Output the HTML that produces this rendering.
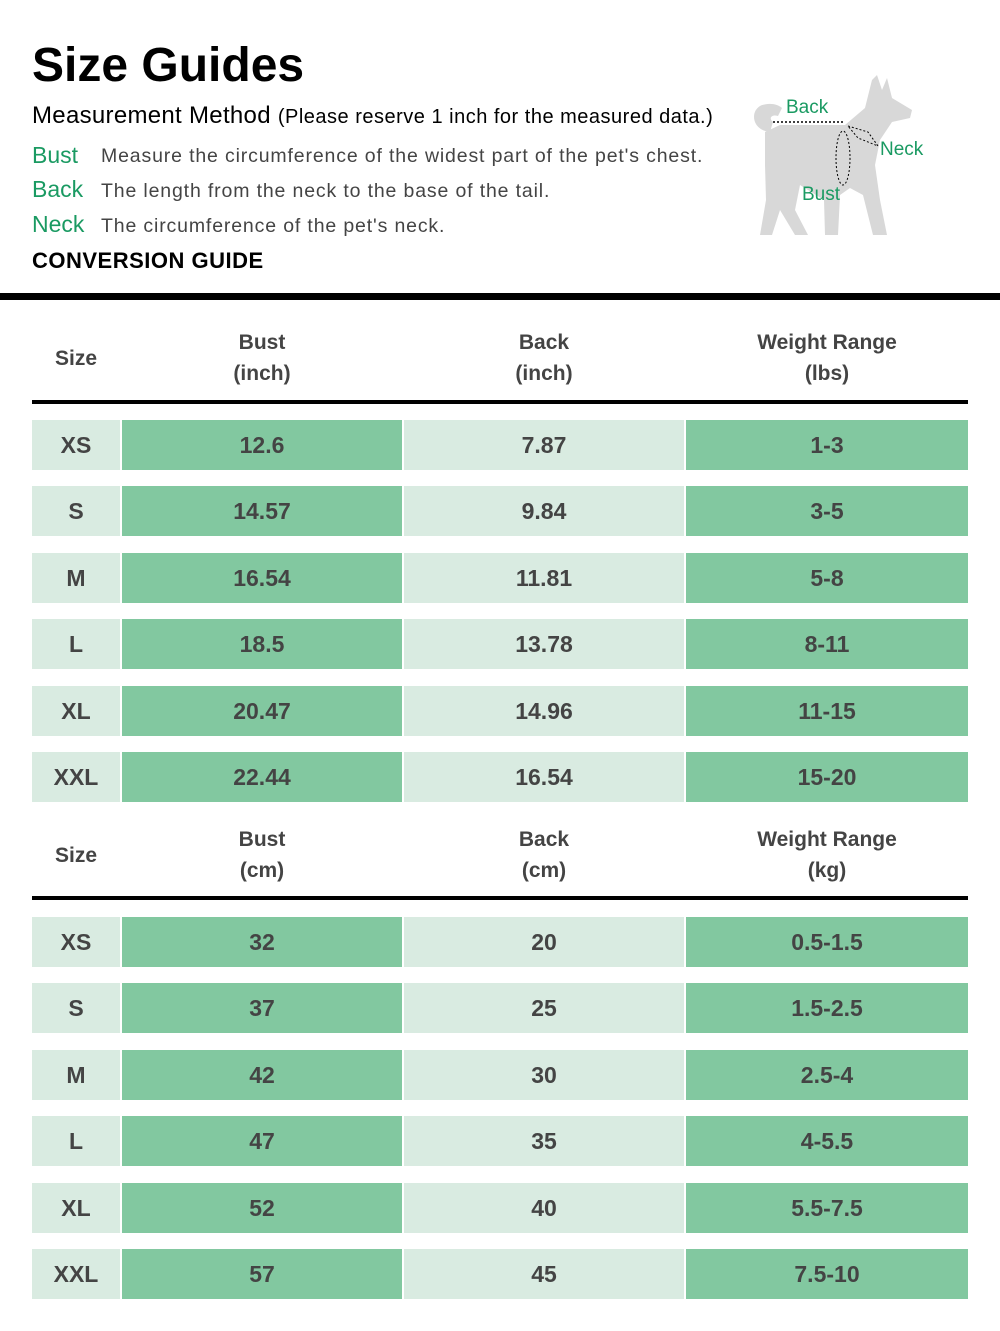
<!DOCTYPE html>
<html><head><meta charset="utf-8"><style>
body{margin:0;width:1000px;height:1331px;background:#fff;position:relative;font-family:"Liberation Sans",sans-serif;overflow:hidden}
.a{position:absolute}
.c{position:absolute;height:50px;line-height:50px;text-align:center;font-weight:bold;font-size:23px;color:#444}
.l{background:#d9ebe1}.g{background:#82c8a0}
.h{position:absolute;text-align:center;font-weight:bold;font-size:21px;color:#444;line-height:31px}
</style></head><body>
<div class="a" style="left:32px;top:38px;font-size:48px;font-weight:bold">Size Guides</div>
<div class="a" style="left:32px;top:102px;font-size:24px;letter-spacing:0.3px">Measurement Method <span style="font-size:20px;letter-spacing:0.5px">(Please reserve 1 inch for the measured data.)</span></div>
<div class="a" style="left:32px;top:142px;font-size:23px;color:#1a9a62">Bust</div>
<div class="a" style="left:101px;top:145px;font-size:19.5px;color:#444;letter-spacing:0.85px">Measure the circumference of the widest part of the pet's chest.</div>
<div class="a" style="left:32px;top:176px;font-size:23px;color:#1a9a62">Back</div>
<div class="a" style="left:101px;top:180px;font-size:19.5px;color:#444;letter-spacing:0.85px">The length from the neck to the base of the tail.</div>
<div class="a" style="left:32px;top:211px;font-size:23px;color:#1a9a62">Neck</div>
<div class="a" style="left:101px;top:215px;font-size:19.5px;color:#444;letter-spacing:0.85px">The circumference of the pet's neck.</div>
<div class="a" style="left:32px;top:248px;font-size:22px;font-weight:bold;letter-spacing:0.5px">CONVERSION GUIDE</div>
<svg class="a" style="left:740px;top:70px" width="200" height="170">
<path fill="#d8d8d8" d="M40,55 L105,55 L125,38 L132,10 L137,5 L142,20 L147,8 L152,28 L172,40 L170,48 L152,52 L140,70 L135,95 L140,130 L147,165 L133,165 L123,125 L110,118 L100,125 L98,165 L85,165 L84,130 L60,115 L55,140 L68,165 L55,165 L40,140 L32,165 L20,165 L26,130 L25,95 L25,62 Z"/>
<path fill="#d8d8d8" d="M30,62 C12,60 10,42 20,36 C28,32 38,34 42,38 L38,46 C32,44 28,48 33,52 Z"/>
<path d="M33,52 H103" stroke="#000" stroke-width="1.5" stroke-dasharray="2,2"/>
<path d="M108,56 L128,62 L138,76 L118,68Z" fill="none" stroke="#000" stroke-dasharray="2,2"/>
<ellipse cx="103" cy="88" rx="7" ry="27" fill="none" stroke="#000" stroke-dasharray="2,2"/>
<text x="46" y="43" font-size="19" fill="#1a9a62" font-family="Liberation Sans">Back</text>
<text x="140" y="85" font-size="19" fill="#1a9a62" font-family="Liberation Sans">Neck</text>
<text x="62" y="130" font-size="19" fill="#1a9a62" font-family="Liberation Sans">Bust</text>
</svg>
<div class="a" style="left:0;top:293px;width:1000px;height:7px;background:#000"></div>
<div id="t"></div>
<script>
var inch=[["XS","12.6","7.87","1-3"],["S","14.57","9.84","3-5"],["M","16.54","11.81","5-8"],["L","18.5","13.78","8-11"],["XL","20.47","14.96","11-15"],["XXL","22.44","16.54","15-20"]];
var cm=[["XS","32","20","0.5-1.5"],["S","37","25","1.5-2.5"],["M","42","30","2.5-4"],["L","47","35","4-5.5"],["XL","52","40","5.5-7.5"],["XXL","57","45","7.5-10"]];
var cols=[[32,88,"l"],[122,280,"g"],[404,280,"l"],[686,282,"g"]];
var h="";
function tbl(hy,ly,ry,d,u){
 var hd=["Size","Bust<br>("+u[0]+")","Back<br>("+u[0]+")","Weight Range<br>("+u[1]+")"];
 var cx=[[32,88],[122,280],[404,280],[686,282]];
 for(var i=0;i<4;i++){var top=i==0?hy+16:hy;h+='<div class="h" style="left:'+cx[i][0]+'px;width:'+cx[i][1]+'px;top:'+top+'px">'+hd[i]+'</div>';}
 h+='<div class="a" style="left:32px;top:'+ly+'px;width:936px;height:4px;background:#000"></div>';
 for(var r=0;r<6;r++){var y=Math.round(ry+r*66.4);for(var i=0;i<4;i++)h+='<div class="c '+cols[i][2]+'" style="left:'+cols[i][0]+'px;width:'+cols[i][1]+'px;top:'+y+'px">'+d[r][i]+'</div>';}
}
tbl(327,400,420,inch,["inch","lbs"]);
tbl(824,896,917,cm,["cm","kg"]);
document.getElementById("t").innerHTML=h;
</script>
</body></html>
